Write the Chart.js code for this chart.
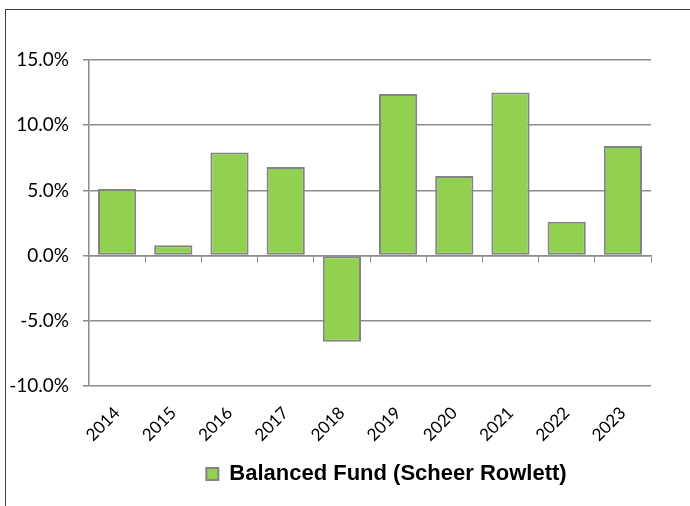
<!DOCTYPE html>
<html>
<head>
<meta charset="utf-8">
<script src="https://cdn.jsdelivr.net/npm/chart.js@4/dist/chart.umd.min.js"></script>
<style>
html,body{margin:0;padding:0;background:#fff;}
#wrap{position:relative;width:690px;height:506px;overflow:hidden;}
#frame{position:absolute;left:5px;top:9px;width:700px;height:520px;border-top:1px solid #404040;border-left:1px solid #404040;}
canvas{position:absolute;left:0;top:0;}
</style>
</head>
<body>
<div id="wrap">
<div id="frame"></div>
<canvas id="c" width="690" height="506"></canvas>
</div>
<script>
const years = ['2014','2015','2016','2017','2018','2019','2020','2021','2022','2023'];
const returns = [5.1, 0.8, 7.9, 6.8, -6.6, 12.4, 6.1, 12.5, 2.6, 8.4];
const seriesName = 'Balanced Fund (Scheer Rowlett)';
const yMin = -10, yMax = 15, yStep = 5;

const gridGray = '#8c8c8c';
const barGreen = '#92D050';
const barEdge = '#848484';

new Chart(document.getElementById('c'), {
  type: 'bar',
  data: {
    labels: years,
    datasets: [{
      label: seriesName,
      data: returns,
      backgroundColor: barGreen,
      borderColor: barEdge,
      borderWidth: 2,
      borderSkipped: false,
      barPercentage: 0.68,
      categoryPercentage: 1.0,
      xAxisID: 'x',
      yAxisID: 'y'
    }]
  },
  options: {
    responsive: false,
    animation: false,
    devicePixelRatio: 1,
    layout: { padding: { left: 0, right: 39, top: 60, bottom: 11 } },
    plugins: {
      tooltip: { enabled: false },
      legend: {
        position: 'bottom',
        fullSize: false,
        labels: {
          color: '#000',
          font: { family: 'Liberation Sans', size: 22, weight: 'bold' },
          boxWidth: 12,
          boxHeight: 12,
          padding: 10,
          generateLabels: chart => {
            const ds = chart.data.datasets[0];
            return [
              { text: '', fillStyle: 'rgba(0,0,0,0)', strokeStyle: 'rgba(0,0,0,0)', lineWidth: 0, fontColor: 'rgba(0,0,0,0)', hidden: false, datasetIndex: -1 },
              { text: ds.label, fillStyle: ds.backgroundColor, strokeStyle: ds.borderColor, lineWidth: 2, fontColor: '#000', hidden: false, datasetIndex: 0 }
            ];
          }
        }
      }
    },
    scales: {
      x: {
        type: 'category',
        position: 'bottom',
        offset: true,
        grid: { display: false },
        border: { display: false },
        ticks: {
          color: '#000',
          font: { family: 'Lato', size: 17 },
          minRotation: 45,
          maxRotation: 45,
          padding: 9
        },
        afterFit: s => { s.height = 67; }
      },
      x2: {
        type: 'category',
        labels: years,
        position: { y: 0 },
        offset: true,
        grid: { display: true, drawOnChartArea: false, drawTicks: true, tickLength: 6, offset: true, color: gridGray, lineWidth: 1 },
        border: { display: true, color: gridGray, width: 1.5 },
        ticks: { display: false }
      },
      y: {
        position: 'left',
        min: yMin,
        max: yMax,
        ticks: {
          stepSize: yStep,
          color: '#000',
          font: { family: 'Lato', size: 19 },
          padding: 14,
          callback: v => v.toFixed(1) + '%'
        },
        grid: { color: gridGray, lineWidth: 1.5, tickLength: 6, drawTicks: true },
        border: { display: true, color: gridGray, width: 1.5 },
        afterFit: s => { s.width = 89; }
      }
    }
  }
});
</script>
</body>
</html>
